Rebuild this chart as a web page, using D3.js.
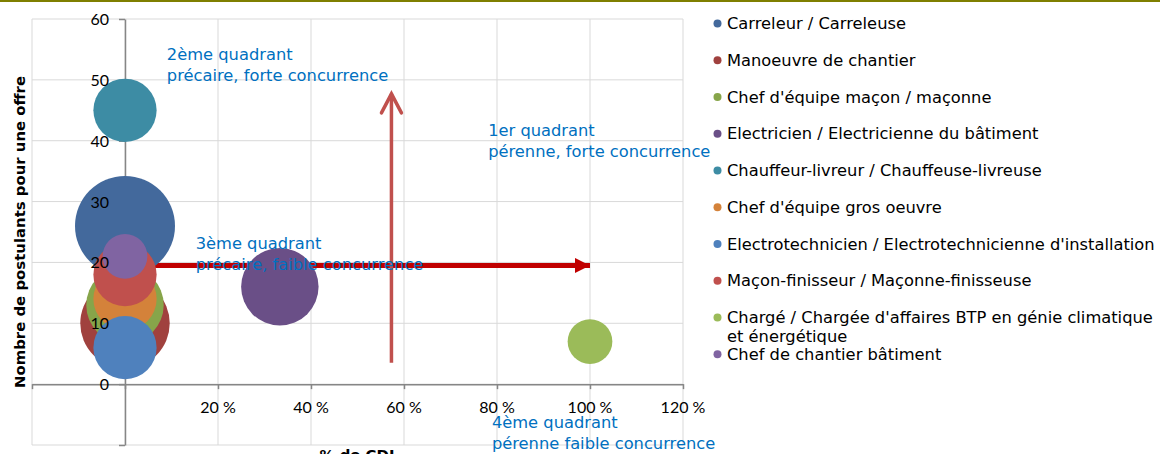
<!DOCTYPE html>
<html>
<head>
<meta charset="utf-8">
<script src="https://cdn.jsdelivr.net/npm/d3@7"></script>
<style>
  body { margin: 0; background: #fff; }
  svg { display: block; }
  .grid line { stroke: #d9d9d9; stroke-width: 1; }
  .axis path, .axis line { stroke: #868686; stroke-width: 1.5; }
  .tick-label { font-family: Lato, "Open Sans", sans-serif; font-size: 16px; fill: #000; }
  .note { font-family: "DejaVu Sans", sans-serif; font-size: 16.3px; fill: #0070c0; }
  .legend text { font-family: "DejaVu Sans", sans-serif; font-size: 16.3px; fill: #000; }
  .title { font-family: "DejaVu Sans", sans-serif; font-size: 14.9px; font-weight: bold; fill: #000; }
</style>
</head>
<body>
<svg width="1160" height="454"></svg>
<script>
// metiers, % de CDI, nombre de postulants, nombre d'offres (taille des bulles)
const jobs = [
    "Carreleur / Carreleuse",
    "Manoeuvre de chantier",
    "Chef d'équipe maçon / maçonne",
    "Electricien / Electricienne du bâtiment",
    "Chauffeur-livreur / Chauffeuse-livreuse",
    "Chef d'équipe gros oeuvre",
    "Electrotechnicien / Electrotechnicienne d'installation",
    "Maçon-finisseur / Maçonne-finisseuse",
    "Chargé / Chargée d'affaires BTP en génie climatique\net énergétique",
    "Chef de chantier bâtiment"
];
const pctCDI = [0, 0, 0, 33.3, 0, 0, 0, 0, 100, 0];
const applicants = [26, 10, 13, 16, 45, 14, 6, 18, 7, 21];
const offers = [5, 4, 3, 3, 2, 2, 2, 2, 1, 1];
const colors = ["#43699c", "#a0413e", "#87a54a", "#6a4f87", "#3d8ca4",
                "#d4823a", "#4f81bd", "#c0504d", "#9bbb59", "#8064a2"];

const xTicks = [-20, 0, 20, 40, 60, 80, 100, 120];
const yTicks = [-10, 0, 10, 20, 30, 40, 50, 60];

const quadrants = [
    {x: 9, y: 53.3, lines: ["2ème quadrant", "précaire, forte concurrence"]},
    {x: 78.1, y: 40.7, lines: ["1er quadrant", "pérenne, forte concurrence"]},
    {x: 15.2, y: 22.2, lines: ["3ème quadrant", "précaire, faible concurrence"]},
    {x: 78.9, y: -7.2, lines: ["4ème quadrant", "pérenne faible concurrence"]}
];

const svg = d3.select("svg");

const x = d3.scaleLinear().domain([-20, 120]).range([32, 683]);
const y = d3.scaleLinear().domain([-10, 60]).range([445, 19]);
const r = d3.scaleSqrt().domain([0, 5]).range([0, 50]);

// bandeau olive en haut
svg.append("rect")
    .attr("x", 0).attr("y", 0)
    .attr("width", 1160).attr("height", 2)
    .attr("fill", "#7f7f00");

// quadrillage
const grid = svg.append("g").attr("class", "grid");
grid.selectAll(".gx").data(xTicks).enter().append("line")
    .attr("x1", d => x(d)).attr("x2", d => x(d))
    .attr("y1", y(60)).attr("y2", y(-10));
grid.selectAll(".gy").data(yTicks).enter().append("line")
    .attr("x1", x(-20)).attr("x2", x(120))
    .attr("y1", d => y(d)).attr("y2", d => y(d));

// axes
svg.append("g")
    .attr("class", "axis")
    .attr("transform", `translate(0,${y(0)})`)
    .call(d3.axisBottom(x).tickValues(xTicks).tickSize(5).tickSizeOuter(0).tickFormat(""));
svg.append("g")
    .attr("class", "axis")
    .attr("transform", `translate(${x(0)},0)`)
    .call(d3.axisLeft(y).tickValues(yTicks).tickSize(6).tickSizeOuter(0).tickFormat(""));

// titres
svg.append("text")
    .attr("class", "title")
    .attr("transform", `translate(25,232) rotate(-90)`)
    .attr("text-anchor", "middle")
    .text("Nombre de postulants pour une offre");
svg.append("text")
    .attr("class", "title")
    .attr("x", 357).attr("y", 460)
    .attr("text-anchor", "middle")
    .text("% de CDI");

// fleches
svg.append("defs").append("marker")
    .attr("id", "head")
    .attr("viewBox", "0 0 10 10")
    .attr("refX", 10).attr("refY", 5)
    .attr("markerWidth", 3).attr("markerHeight", 3)
    .attr("markerUnits", "strokeWidth")
    .attr("orient", "auto")
    .append("path")
    .attr("d", "M0,0 L10,5 L0,10 Z")
    .attr("fill", "#c00000");

svg.append("line")
    .attr("x1", x(0)).attr("x2", x(100))
    .attr("y1", y(19.5)).attr("y2", y(19.5))
    .attr("stroke", "#c00000")
    .attr("stroke-width", 5)
    .attr("marker-end", "url(#head)");

svg.append("line")
    .attr("x1", x(57.3)).attr("x2", x(57.3))
    .attr("y1", y(3.5)).attr("y2", y(47.7))
    .attr("stroke", "#c0504d")
    .attr("stroke-width", 3.5);
svg.append("path")
    .attr("d", `M${x(57.3) - 10},${y(47.7) + 19} L${x(57.3)},${y(47.7)} L${x(57.3) + 10},${y(47.7) + 19}`)
    .attr("fill", "none")
    .attr("stroke", "#c0504d")
    .attr("stroke-width", 3.5)
    .attr("stroke-linecap", "round");

// bulles
svg.selectAll(".bubble")
    .data(jobs)
    .enter()
    .append("circle")
    .attr("class", "bubble")
    .attr("cx", (d, i) => x(pctCDI[i]))
    .attr("cy", (d, i) => y(applicants[i]))
    .attr("r", (d, i) => r(offers[i]))
    .attr("fill", (d, i) => colors[i]);

// etiquettes des axes (au-dessus des bulles)
svg.selectAll(".xl").data(xTicks.filter(d => d > 0)).enter().append("text")
    .attr("class", "tick-label")
    .attr("x", d => x(d))
    .attr("y", 413)
    .attr("text-anchor", "middle")
    .text(d => d + " %");
svg.selectAll(".yl").data(yTicks.filter(d => d >= 0)).enter().append("text")
    .attr("class", "tick-label")
    .attr("x", 109)
    .attr("y", d => y(d) + 6)
    .attr("text-anchor", "end")
    .text(d => d);

// textes des quadrants
quadrants.forEach(q => {
    const t = svg.append("text")
        .attr("class", "note")
        .attr("x", x(q.x))
        .attr("y", y(q.y));
    q.lines.forEach((line, j) => {
        t.append("tspan")
            .attr("x", x(q.x))
            .attr("dy", j === 0 ? 0 : 21)
            .text(line);
    });
});

// legende
const legend = svg.append("g").attr("class", "legend");
jobs.forEach((name, i) => {
    const yy = 29 + 36.75 * i;
    legend.append("circle")
        .attr("cx", 717.5).attr("cy", yy - 5.5)
        .attr("r", 4)
        .attr("fill", colors[i]);
    const t = legend.append("text").attr("x", 727).attr("y", yy);
    name.split("\n").forEach((line, j) => {
        t.append("tspan")
            .attr("x", 727)
            .attr("dy", j === 0 ? 0 : 19)
            .text(line);
    });
});
</script>
</body>
</html>
